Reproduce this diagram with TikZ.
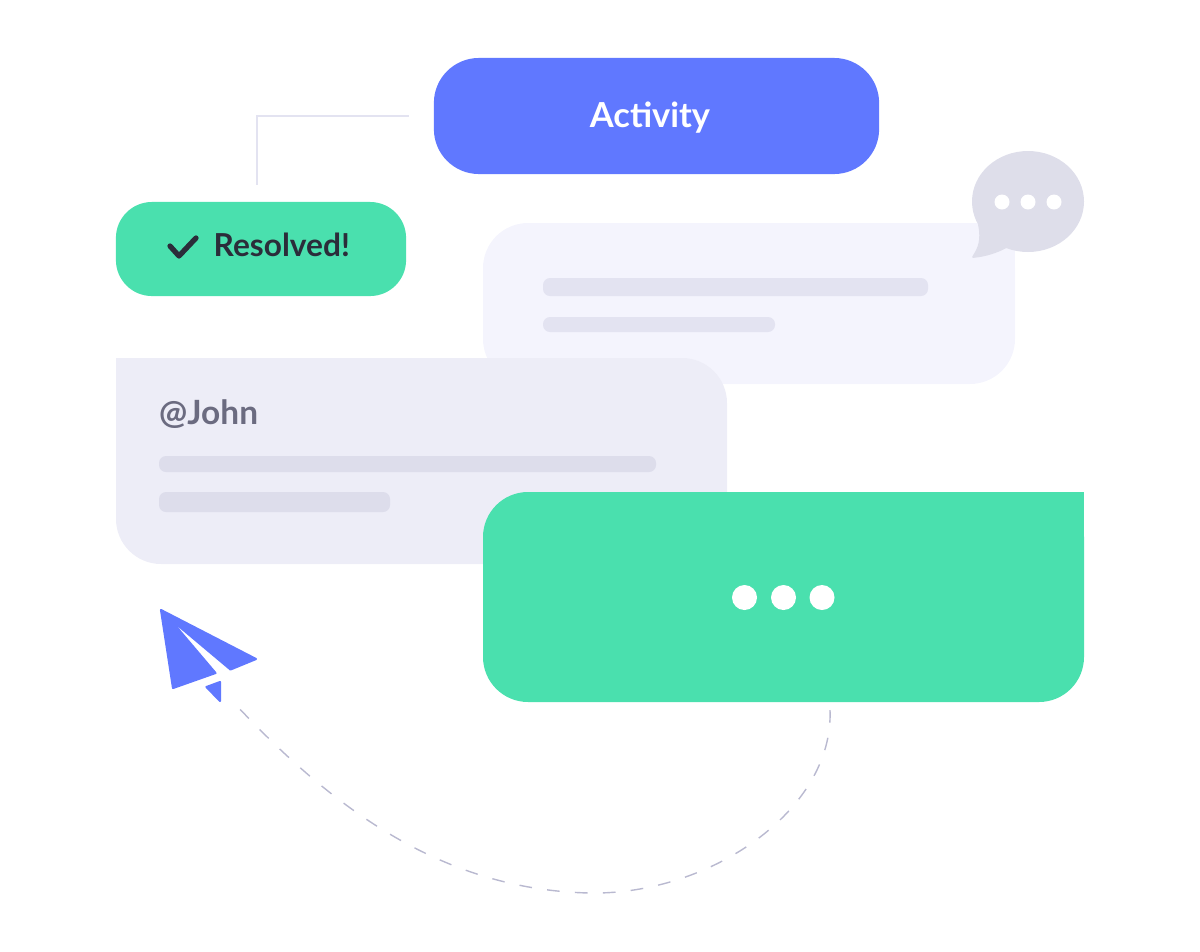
\documentclass[tikz,border=0pt]{standalone}
\usepackage{fontspec}
\setmainfont{Lato}
\usepackage{xcolor}
\usetikzlibrary{positioning}
\definecolor{planeblue}{HTML}{6078FF}
\definecolor{mint}{HTML}{4AE0AE}
\definecolor{paleback}{HTML}{F4F4FD}
\definecolor{johnback}{HTML}{EDEDF7}
\definecolor{palebar}{HTML}{E3E3F1}
\definecolor{johnbar}{HTML}{DDDDEB}
\definecolor{bubblegrey}{HTML}{DEDEEA}
\definecolor{inkdark}{HTML}{2B2D3A}
\definecolor{inkgrey}{HTML}{6B6B80}
\definecolor{elbowline}{HTML}{E3E3F1}
\definecolor{dashline}{HTML}{B9B9D0}
\tikzset{
    pill/.style={rounded corners=0.45cm, inner sep=0pt},
    bar/.style={rounded corners=0.07cm},
    card/.style={rounded corners=0.45cm},
    plane/.style={fill=planeblue, draw=planeblue, line width=0.6pt, line join=round}
}

\begin{document}
\begin{tikzpicture}[x=0.01cm,y=-0.01cm]
    \useasboundingbox (0,0) rectangle (1200,951);

    % Elbow line above the green label
    \coordinate (elbowstart) at (409,116);
    \coordinate (elbowend) at (257,185);
    \draw[elbowline, line width=0.55pt] (elbowstart) -| (elbowend);

    % Top label and status label
    \node[pill, fill=planeblue, minimum width=4.45cm, minimum height=1.16cm] (activity) at (656.5,116) {};
    \node[inner sep=0pt, text=white, font=\bfseries\fontsize{9.8}{12}\selectfont] (activitytext) at (650,118) {Activity};
    \node[pill, fill=mint, rounded corners=0.36cm, minimum width=2.9cm, minimum height=0.94cm] (resolved) at (261,249) {};
    \node[anchor=west, inner sep=0pt, text=inkdark, font=\bfseries\fontsize{9}{11}\selectfont] (resolvedtext) at (213,245) {Resolved!};
    \draw[inkdark, line width=1.5pt, line cap=round, line join=round] (170,246) -- (179,256) -- (196,238);

    % Pale message
    \fill[paleback, card] (483,223) rectangle (1015,384);
    \fill[paleback] (900,223) rectangle (1015,300);
    \fill[palebar, bar] (543,278) rectangle (928,296);
    \fill[palebar, bar] (543,317) rectangle (775,332);

    % Speech bubble
    \fill[bubblegrey] (1028,201.5) ellipse (56 and 50.5);
    \fill[bubblegrey, line join=round, draw=bubblegrey, line width=0.5pt] (979,225) .. controls (982,240) and (979,248) .. (973,257) .. controls (985,256) and (998,252) .. (1008,246) -- cycle;
    \foreach \dotx in {1002,1028,1054}
        \fill[white] (\dotx,202) circle (7.5);

    % Message to John
    \fill[johnback, card] (116,358) rectangle (727,564);
    \fill[johnback] (116,358) rectangle (300,450);
    \node[anchor=west, inner sep=0pt, text=inkgrey, font=\bfseries\fontsize{9.5}{12}\selectfont] (john) at (158.5,414) {@John};
    \fill[johnbar, bar] (159,456) rectangle (656,472);
    \fill[johnbar, bar] (159,492) rectangle (390,512);

    % Typing message
    \fill[mint, card] (483,492) rectangle (1084,702);
    \fill[mint] (900,492) rectangle (1084,600);
    \foreach \dotx in {744.5,783.5,822}
        \fill[white] (\dotx,597.5) circle (12.5);

    % Paper plane
    \fill[plane] (161,610) -- (256,659) -- (230.5,669.5) -- (168,617) -- (215.5,673) -- (173,688) -- cycle;
    \fill[plane] (206.5,687) -- (220,682) -- (220,701) -- cycle;

    % Dashed flight path
    \coordinate (pathstart) at (830,710);
    \coordinate (pathend) at (236,705);
    \draw[dashline, line width=0.4pt, dash pattern=on 3.6pt off 4.35pt] (pathstart) .. controls (834,810) and (710,895) .. (590,893) .. controls (440,890) and (330,805) .. (pathend);
\end{tikzpicture}
\end{document}
